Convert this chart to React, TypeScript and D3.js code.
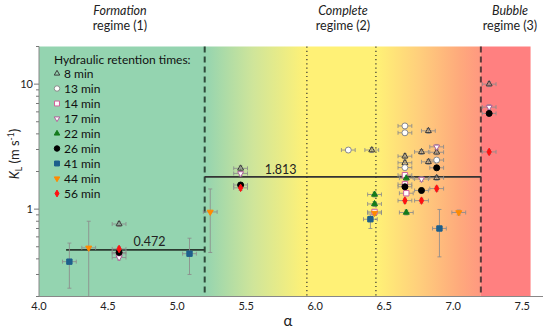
import React from "react";
import * as d3 from "d3";

// ---------- data ----------
// each point: [alpha, K_L, alphaErr, kLow, kHigh]
type Pt = [number, number, number?, number?, number?];

const hrt8: Pt[] = [[4.58, 0.76], [5.46, 2.12], [6.41, 2.97], [6.65, 2.65], [6.65, 2.35], [6.77, 2.87], [6.82, 4.23], [6.82, 2.39], [6.88, 2.85], [6.88, 1.78], [7.26, 10.0]];
const hrt13: Pt[] = [[6.24, 2.97], [6.65, 4.63], [6.65, 4.08], [6.65, 2.15], [6.88, 2.47]];
const hrt14: Pt[] = [[4.58, 0.44], [6.43, 0.95], [6.65, 1.87], [6.65, 1.58], [6.66, 1.34]];
const hrt17: Pt[] = [[4.58, 0.41], [5.46, 1.93], [6.77, 1.74], [6.88, 3.15], [7.26, 6.55]];
const hrt22: Pt[] = [[6.43, 1.31], [6.43, 1.10], [6.66, 1.77], [6.66, 0.94]];
const hrt26: Pt[] = [[4.58, 0.45], [5.46, 1.56], [6.65, 1.51], [6.77, 1.41], [6.88, 2.14], [7.26, 5.83]];
const hrt41: Pt[] = [[4.22, 0.38, 0.05, 0.233, 0.535], [5.09, 0.44, 0.05, 0.30, 0.585], [6.40, 0.83, 0.05, 0.70, 0.90], [6.90, 0.70, 0.05, 0.415, 0.994]];
const hrt44: Pt[] = [[4.36, 0.49, 0.05, 0.15, 0.80], [5.24, 0.95, 0.05, 0.45, 1.45], [6.43, 0.93], [7.04, 0.94]];
const hrt56: Pt[] = [[4.58, 0.48], [5.46, 1.48], [6.65, 1.17], [6.77, 1.17], [6.88, 1.46], [7.26, 2.87]];

const seriesNames = ["8 min", "13 min", "14 min", "17 min", "22 min", "26 min", "41 min", "44 min", "56 min"];
const seriesData = [hrt8, hrt13, hrt14, hrt17, hrt22, hrt26, hrt41, hrt44, hrt56];

const xTicks = [4.0, 4.5, 5.0, 5.5, 6.0, 6.5, 7.0, 7.5];
const yMajor = [1, 10];
const regimeBounds = [5.2, 7.2];
const dottedAt = [5.94, 6.44];
const meanFormation = 0.472;
const meanComplete = 1.813;

// ---------- styles ----------
type Sty = { shape: string; fill: string; stroke: string };
const styles: Sty[] = [
  { shape: "tri", fill: "none", stroke: "#3a3a3a" },
  { shape: "circle", fill: "#ffffff", stroke: "#8a8a8a" },
  { shape: "square", fill: "#ffffff", stroke: "#d0609a" },
  { shape: "tridown", fill: "#ffffff", stroke: "#b0609a" },
  { shape: "tri", fill: "#137a1c", stroke: "#137a1c" },
  { shape: "circle", fill: "#000000", stroke: "#000000" },
  { shape: "square", fill: "#1d5f8c", stroke: "#1d5f8c" },
  { shape: "tridown", fill: "#ff8a00", stroke: "#ff8a00" },
  { shape: "diamond", fill: "#ff1010", stroke: "#ff1010" },
];

const W = 550, H = 332;
const x = d3.scaleLinear().domain([4.0, 7.65]).range([39, 543]);
const y = d3.scaleLog().domain([0.2, 20]).range([296.5, 46.5]);

// s = approximate marker width in px
function markerPath(shape: string, s: number): string {
  if (shape === "circle") return d3.symbol(d3.symbolCircle, Math.PI * (s / 2) * (s / 2))()!;
  if (shape === "square") return d3.symbol(d3.symbolSquare, s * s * 0.8)()!;
  if (shape === "tri" || shape === "tridown") return d3.symbol(d3.symbolTriangle, s * s * 0.433)()!;
  const hw = s * 0.36, hh = s * 0.62;
  return `M0,${-hh}L${hw},0L0,${hh}L${-hw},0Z`;
}

function Marker({ st, cx, cy, s }: { st: Sty; cx: number; cy: number; s: number }) {
  const rot = st.shape === "tridown" ? " rotate(180)" : "";
  return (
    <path
      d={markerPath(st.shape, s)}
      transform={`translate(${cx},${cy})${rot}`}
      fill={st.fill}
      stroke={st.stroke}
      strokeWidth={1}
    />
  );
}

export default function App() {
  const font = "Lato, 'Open Sans', sans-serif";
  const minorY: number[] = [];
  [0.1, 1, 10].forEach((dec) => {
    for (let m = 2; m <= 9; m++) {
      const v = dec * m;
      if (v >= 0.2 && v <= 20 && v !== 1 && v !== 10) minorY.push(v);
    }
  });
  const top = 46.5, bottom = 296.5;
  const xBgEnd = 7.56;
  const errColor = "rgba(140,140,140,0.85)";

  return (
    <svg width={W} height={H} style={{ position: "absolute", left: 0, top: 0 }} fontFamily={font}>
      <defs>
        <linearGradient id="bg" gradientUnits="userSpaceOnUse" x1={x(4.0)} x2={x(regimeBounds[1])} y1={0} y2={0}>
          <stop offset={((5.2 - 4.0) / 3.2).toString()} stopColor="#94d4b0" />
          <stop offset={((5.55 - 4.0) / 3.2).toString()} stopColor="#cfe59a" />
          <stop offset={((5.93 - 4.0) / 3.2).toString()} stopColor="#fff176" />
          <stop offset={((6.45 - 4.0) / 3.2).toString()} stopColor="#fff176" />
          <stop offset={((6.75 - 4.0) / 3.2).toString()} stopColor="#ffcf7c" />
          <stop offset={((7.05 - 4.0) / 3.2).toString()} stopColor="#fea97c" />
          <stop offset="1" stopColor="#ff9880" />
        </linearGradient>
        <clipPath id="plotclip">
          <rect x={x(4.0)} y={top} width={x(7.65) - x(4.0)} height={bottom - top} />
        </clipPath>
      </defs>

      {/* background regimes */}
      <rect x={x(4.0)} y={top} width={x(regimeBounds[1]) - x(4.0)} height={bottom - top} fill="url(#bg)" />
      <rect x={x(regimeBounds[1])} y={top} width={x(xBgEnd) - x(regimeBounds[1])} height={bottom - top} fill="#ff8080" />

      {/* regime boundaries */}
      {regimeBounds.map((b, i) => (
        <line key={"b" + i} x1={x(b)} x2={x(b)} y1={top} y2={bottom} stroke={i === 0 ? "#2e4a3a" : "#5a3a3a"} strokeWidth={2} strokeDasharray="6,4" />
      ))}
      {dottedAt.map((b, i) => (
        <line key={"d" + i} x1={x(b)} x2={x(b)} y1={top} y2={bottom} stroke="#333" strokeWidth={1.2} strokeDasharray="1.2,3" />
      ))}

      {/* mean lines */}
      <line x1={x(4.196)} x2={x(regimeBounds[0])} y1={y(meanFormation)} y2={y(meanFormation)} stroke="#2b3a30" strokeWidth={1.6} />
      <text x={x(4.8)} y={y(meanFormation) - 4} fontSize={12.5} textAnchor="middle" fill="#222">{meanFormation.toFixed(3)}</text>
      <line x1={x(regimeBounds[0])} x2={x(regimeBounds[1])} y1={y(meanComplete)} y2={y(meanComplete)} stroke="#333" strokeWidth={1.6} />
      <text x={x(5.75)} y={y(meanComplete) - 3} fontSize={12.5} textAnchor="middle" fill="#222">{meanComplete.toFixed(3)}</text>

      {/* error bars */}
      <g clipPath="url(#plotclip)">
        {seriesData.map((data, si) =>
          data.map((p, pi) => {
            const [a, k, ae = 0.05, kl = k * 0.955, kh = k * 1.045] = p;
            const cx = x(a), cy = y(k);
            const x0 = x(a - ae), x1 = x(a + ae);
            const yl = y(Math.max(kl, 0.15)), yh = y(kh);
            return (
              <g key={`e${si}-${pi}`} stroke={errColor} strokeWidth={1}>
                <line x1={x0} x2={x1} y1={cy} y2={cy} />
                <line x1={x0} x2={x0} y1={cy - 2} y2={cy + 2} />
                <line x1={x1} x2={x1} y1={cy - 2} y2={cy + 2} />
                <line x1={cx} x2={cx} y1={yl} y2={yh} />
                <line x1={cx - 2} x2={cx + 2} y1={yh} y2={yh} />
                <line x1={cx - 2} x2={cx + 2} y1={yl} y2={yl} />
              </g>
            );
          })
        )}
      </g>

      {/* markers */}
      {seriesData.map((data, si) =>
        data.map((p, pi) => <Marker key={`m${si}-${pi}`} st={styles[si]} cx={x(p[0])} cy={y(p[1])} s={6} />)
      )}

      {/* legend */}
      <text x={54} y={64} fontSize={12} fill="#111">Hydraulic retention times:</text>
      {seriesNames.map((n, i) => (
        <g key={"l" + i}>
          <Marker st={styles[i]} cx={57} cy={73.5 + i * 15} s={5.5} />
          <text x={64} y={77.5 + i * 15} fontSize={12} fill="#111">{n}</text>
        </g>
      ))}

      {/* axes */}
      <line x1={x(4.0)} x2={x(4.0)} y1={top} y2={bottom} stroke="#888" strokeWidth={1} />
      <line x1={x(4.0)} x2={x(7.65)} y1={bottom} y2={bottom} stroke="#888" strokeWidth={1} />
      {yMajor.map((v) => (
        <g key={"ym" + v}>
          <line x1={x(4.0) - 5} x2={x(4.0)} y1={y(v)} y2={y(v)} stroke="#777" />
          <text x={x(4.0) - 6} y={y(v) + 4} fontSize={11} textAnchor="end" fill="#222">{v}</text>
        </g>
      ))}
      {minorY.map((v) => (
        <line key={"yn" + v} x1={x(4.0) - 3} x2={x(4.0)} y1={y(v)} y2={y(v)} stroke="#777" />
      ))}
      {xTicks.map((v) => (
        <text key={"xt" + v} x={x(v)} y={310} fontSize={11} textAnchor="middle" fill="#222">{v.toFixed(1)}</text>
      ))}
      <text x={288} y={326} fontSize={15} textAnchor="middle" fill="#222">α</text>
      <text transform="translate(19,154) rotate(-90)" fontSize={13} textAnchor="middle" fill="#222">
        <tspan fontStyle="italic">K</tspan>
        <tspan fontSize={8.5} dy={3}>L</tspan>
        <tspan dy={-3}> (m s</tspan>
        <tspan fontSize={8.5} dy={-5}>-1</tspan>
        <tspan dy={5}>)</tspan>
      </text>

      {/* regime titles */}
      <g fontSize={12.5} textAnchor="middle" fill="#222">
        <text x={120} y={15} fontStyle="italic">Formation</text>
        <text x={120} y={30}>regime (1)</text>
        <text x={343} y={15} fontStyle="italic">Complete</text>
        <text x={343} y={30}>regime (2)</text>
        <text x={510} y={15} fontStyle="italic">Bubble</text>
        <text x={510} y={30}>regime (3)</text>
      </g>
    </svg>
  );
}
